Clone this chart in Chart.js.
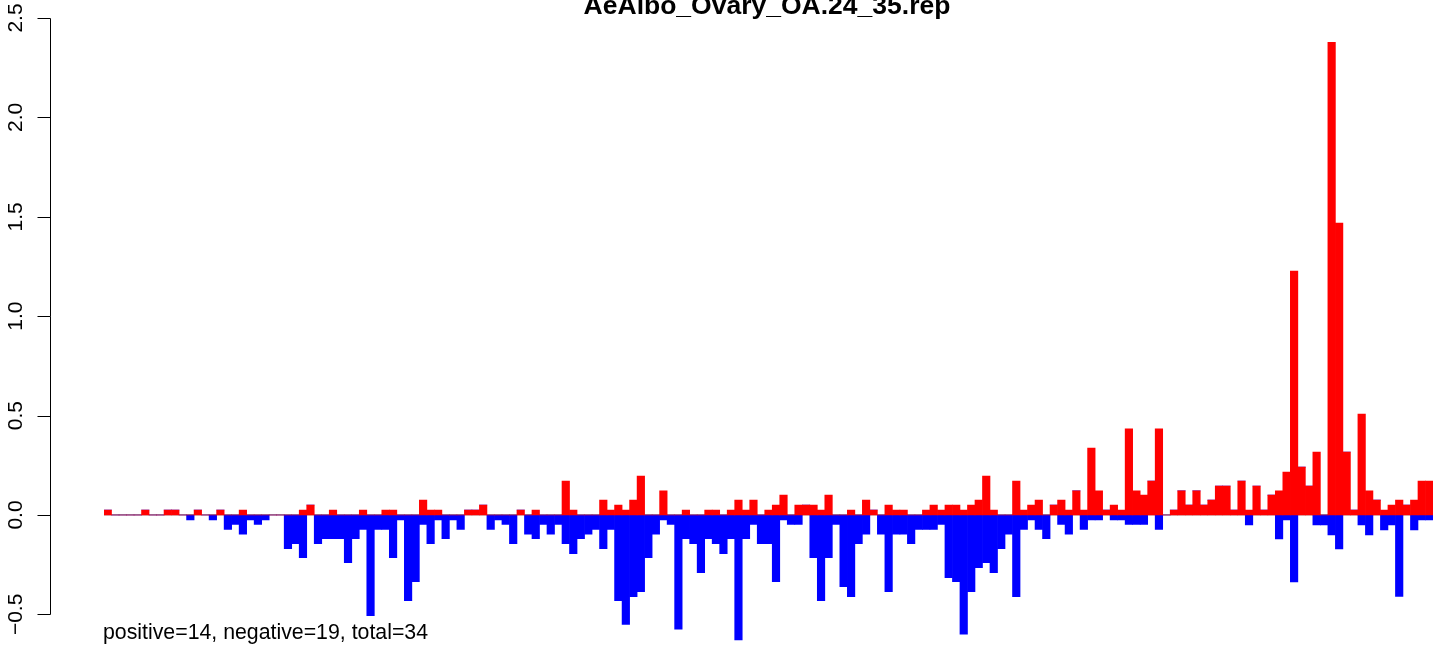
<!DOCTYPE html>
<html><head><meta charset="utf-8">
<script src="https://cdn.jsdelivr.net/npm/chart.js@4.4.1/dist/chart.umd.min.js"></script>
<style>html,body{margin:0;padding:0;background:#fff;overflow:hidden}#wrap{position:absolute;left:0;top:0;width:1439px;height:645px}</style>
</head><body><div id="wrap"><canvas id="c" width="1439" height="645"></canvas></div>
<script>
const chartTitle = "AeAlbo_Ovary_OA.24_35.rep";
const footnote = "positive=14, negative=19, total=34";
const positive = [
0.025,0,0,0,0,0.025,0,0,0.025,0.025,
0,0,0.025,0,0,0.025,0,0,0.025,0,
0,0,0,0,0,0,0.025,0.05,0,0,
0.025,0,0,0,0.025,0,0,0.025,0.025,0,
0,0,0.075,0.025,0.025,0,0,0,0.025,0.025,
0.05,0,0,0,0,0.025,0,0.025,0,0,
0,0.171,0.025,0,0,0,0.075,0.025,0.05,0.025,
0.075,0.196,0,0,0.121,0,0,0.025,0,0,
0.025,0.025,0,0.025,0.075,0.025,0.075,0,0.025,0.05,
0.1,0,0.05,0.05,0.05,0.025,0.1,0,0,0.025,
0,0.075,0.025,0,0.05,0.025,0.025,0,0,0.025,
0.05,0.025,0.05,0.05,0.025,0.05,0.075,0.196,0.025,0,
0,0.171,0.025,0.05,0.075,0,0.05,0.075,0.025,0.121,
0.025,0.337,0.121,0.025,0.05,0.025,0.433,0.121,0.1,0.171,
0.433,0,0.025,0.121,0.05,0.121,0.05,0.075,0.146,0.146,
0.025,0.171,0.025,0.146,0.025,0.1,0.121,0.216,1.227,0.241,
0.146,0.317,0,2.378,1.469,0.317,0.025,0.507,0.121,0.075,
0.025,0.05,0.075,0.05,0.075,0.171,0.171];
const negative = [
0,0,0,0,0,0,0,0,0,0,
0,-0.025,0,0,-0.025,0,-0.072,-0.047,-0.097,-0.025,
-0.047,-0.025,0,0,-0.169,-0.144,-0.215,0,-0.144,-0.119,
-0.119,-0.119,-0.24,-0.119,-0.072,-0.507,-0.072,-0.072,-0.215,-0.025,
-0.431,-0.335,-0.047,-0.144,-0.025,-0.119,-0.025,-0.072,0,0,
0,-0.072,-0.025,-0.047,-0.144,0,-0.097,-0.119,-0.047,-0.097,
-0.047,-0.144,-0.195,-0.119,-0.097,-0.072,-0.169,-0.072,-0.431,-0.55,
-0.411,-0.386,-0.215,-0.097,-0.025,-0.047,-0.575,-0.119,-0.144,-0.29,
-0.119,-0.144,-0.195,-0.119,-0.629,-0.119,-0.047,-0.144,-0.144,-0.335,
-0.025,-0.047,-0.047,0,-0.215,-0.431,-0.215,-0.047,-0.361,-0.411,
-0.144,-0.097,0,-0.097,-0.386,-0.097,-0.097,-0.144,-0.072,-0.072,
-0.072,-0.047,-0.315,-0.335,-0.6,-0.386,-0.265,-0.24,-0.29,-0.169,
-0.097,-0.411,-0.072,-0.025,-0.072,-0.119,0,-0.047,-0.097,0,
-0.072,-0.025,-0.025,0,-0.025,-0.025,-0.047,-0.047,-0.047,0,
-0.072,0,0,0,0,0,0,0,0,0,
0,0,-0.05,0,0,0,-0.121,-0.025,-0.337,0,
0,-0.05,-0.05,-0.1,-0.171,0,0,-0.05,-0.1,0,
-0.075,-0.05,-0.41,0,-0.075,-0.025,-0.025];
const categories = positive.map((_, i) => String(i + 1));
const yTicks = [-0.5, 0, 0.5, 1, 1.5, 2, 2.5];
const yTickLabels = ["\u22120.5", "0.0", "0.5", "1.0", "1.5", "2.0", "2.5"];

const FONT = '"Liberation Sans", Arial, Helvetica, sans-serif';

const decor = {
  id: 'decor',
  beforeDatasetsDraw(chart) {
    const {ctx, scales: {x, y}} = chart;
    const y0 = Math.round(y.getPixelForValue(0));
    ctx.save();
    ctx.fillStyle = '#a6a6a6';
    ctx.fillRect(x.left, y0 - 1, x.right - x.left, 1.5);
    ctx.restore();
  },
  afterDraw(chart) {
    const {ctx, scales: {x, y}} = chart;
    ctx.save();
    const ax = 50.5;
    ctx.strokeStyle = '#000';
    ctx.lineWidth = 1;
    ctx.beginPath();
    const yTop = Math.round(y.getPixelForValue(yTicks[yTicks.length - 1])) + 0.5;
    const yBot = Math.round(y.getPixelForValue(yTicks[0])) + 0.5;
    ctx.moveTo(ax, yTop); ctx.lineTo(ax, yBot);
    yTicks.forEach(v => {
      const py = Math.round(y.getPixelForValue(v)) + 0.5;
      ctx.moveTo(ax, py); ctx.lineTo(ax - 13, py);
    });
    ctx.stroke();
    ctx.fillStyle = '#000';
    ctx.font = '21px ' + FONT;
    ctx.textAlign = 'center';
    ctx.textBaseline = 'alphabetic';
    yTicks.forEach((v, i) => {
      const py = y.getPixelForValue(v);
      ctx.save();
      ctx.translate(22, py);
      ctx.rotate(-Math.PI / 2);
      ctx.fillText(yTickLabels[i], 0, 0);
      ctx.restore();
    });
    ctx.font = 'bold 26.5px ' + FONT;
    ctx.textAlign = 'center';
    ctx.fillText(chartTitle, 767, 14);
    ctx.font = '21.3px ' + FONT;
    ctx.textAlign = 'left';
    ctx.fillText(footnote, 103, 639);
    ctx.restore();
  }
};

new Chart(document.getElementById('c'), {
  type: 'bar',
  data: {
    labels: categories,
    datasets: [
      {label: 'positive', data: positive, backgroundColor: '#ff0000', borderWidth: 0},
      {label: 'negative', data: negative, backgroundColor: '#0000ff', borderWidth: 0}
    ]
  },
  options: {
    responsive: false,
    animation: false,
    devicePixelRatio: 1,
    categoryPercentage: 1.0,
    barPercentage: 1.0,
    layout: {padding: {left: 104, right: 6, top: 18, bottom: 0.8}},
    plugins: {legend: {display: false}, tooltip: {enabled: false}, title: {display: false}},
    scales: {
      x: {display: false, stacked: true, offset: true},
      y: {display: false, stacked: true, min: -0.65, max: 2.5}
    }
  },
  plugins: [decor]
});
</script>
</body></html>
